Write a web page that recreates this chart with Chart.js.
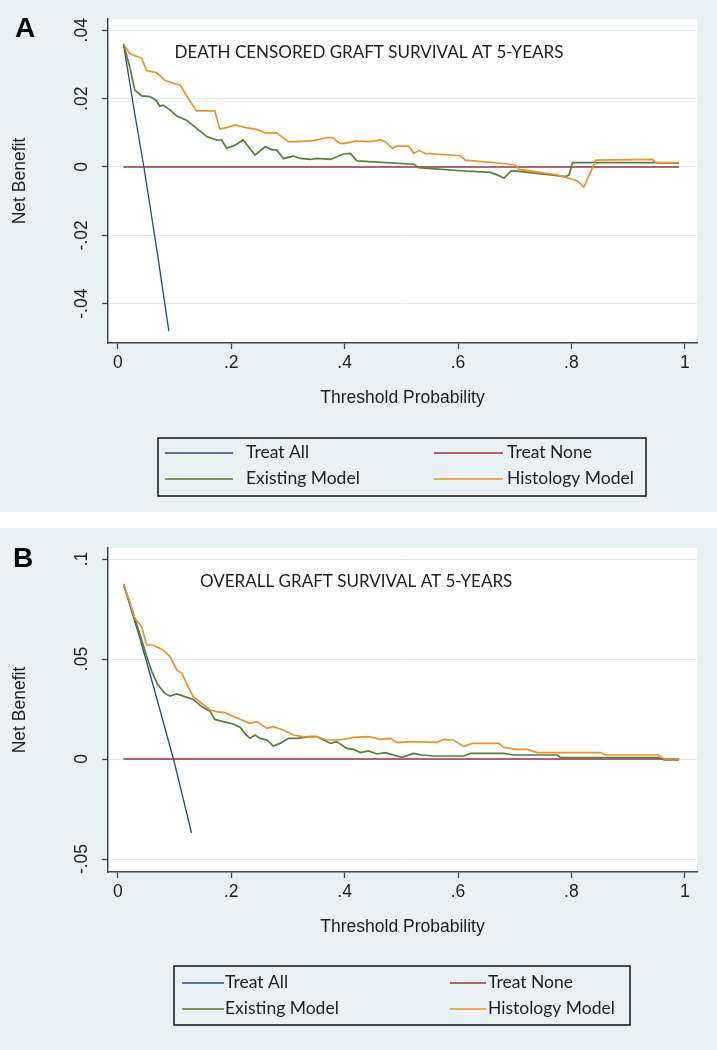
<!DOCTYPE html>
<html><head><meta charset="utf-8">
<script src="https://cdn.jsdelivr.net/npm/chart.js@4.4.1/dist/chart.umd.min.js"></script>
<style>
html,body{margin:0;padding:0;background:#fff;}
body{width:717px;height:1050px;position:relative;overflow:hidden;}
.panel{position:absolute;left:0;width:717px;background:#eaf1f3;}
#pa{top:0;height:512px;}
#pb{top:528px;height:522px;}
canvas{display:block;}
</style></head><body>
<div class="panel" id="pa"><canvas id="ca" width="717" height="512"></canvas></div>
<div class="panel" id="pb"><canvas id="cb" width="717" height="522"></canvas></div>
<script>
// ---------- tick labels & names ----------
const xTicks = [0, 0.2, 0.4, 0.6, 0.8, 1];
const xTickLabels = ['0', '.2', '.4', '.6', '.8', '1'];
const yTicksA = [-0.04, -0.02, 0, 0.02, 0.04];
const yTickLabelsA = ['-.04', '-.02', '0', '.02', '.04'];
const yTicksB = [-0.05, 0, 0.05, 0.1];
const yTickLabelsB = ['-.05', '0', '.05', '.1'];
const seriesNames = ['Treat All', 'Treat None', 'Existing Model', 'Histology Model'];
const titleA = 'DEATH CENSORED GRAFT SURVIVAL AT 5-YEARS';
const titleB = 'OVERALL GRAFT SURVIVAL AT 5-YEARS';
const xAxisTitle = 'Threshold Probability';
const yAxisTitle = 'Net Benefit';

// ---------- Panel A data ----------
const treatAllA_x = [0.01, 0.03, 0.046, 0.07, 0.09];
const treatAllA_y = [0.036, 0.0155, 0, -0.0255, -0.048];
const treatNoneA_x = [0.01, 0.99];
const treatNoneA_y = [0, 0];
const existingA_x = [0.01,0.021,0.030,0.042,0.057,0.068,0.074,0.080,0.092,0.104,0.121,0.139,0.157,0.174,0.183,0.192,0.207,0.221,0.242,0.260,0.272,0.280,0.292,0.310,0.322,0.339,0.351,0.375,0.398,0.410,0.422,0.522,0.531,0.604,0.657,0.669,0.681,0.693,0.704,0.790,0.796,0.802,0.946,0.99];
const existingA_y = [0.036,0.0293,0.0225,0.0208,0.0206,0.0194,0.0178,0.0181,0.0167,0.0149,0.0137,0.0113,0.0089,0.0079,0.0079,0.0055,0.0064,0.0079,0.0035,0.0059,0.005,0.005,0.0025,0.0032,0.0025,0.0022,0.0025,0.0022,0.0038,0.004,0.0018,0.0008,-0.0002,-0.0011,-0.0016,-0.0023,-0.0033,-0.0012,-0.0012,-0.0028,-0.0023,0.0013,0.0013,0.0011];
const histologyA_x = [0.01,0.021,0.042,0.051,0.068,0.083,0.098,0.110,0.124,0.139,0.154,0.171,0.180,0.192,0.207,0.224,0.245,0.260,0.280,0.301,0.316,0.345,0.372,0.380,0.392,0.401,0.419,0.445,0.463,0.472,0.484,0.492,0.513,0.522,0.531,0.542,0.604,0.613,0.675,0.701,0.708,0.775,0.810,0.822,0.843,0.943,0.949,0.99];
const histologyA_y = [0.036,0.0332,0.0318,0.0282,0.0276,0.0254,0.0245,0.024,0.0201,0.0164,0.0164,0.0164,0.0111,0.0115,0.0123,0.0116,0.011,0.010,0.010,0.0074,0.0074,0.0077,0.0087,0.0084,0.0069,0.0069,0.0076,0.0074,0.0079,0.0074,0.0055,0.0061,0.0061,0.004,0.0048,0.004,0.0033,0.002,0.0011,0.0006,-0.0007,-0.0023,-0.004,-0.0059,0.002,0.0022,0.0013,0.0013];

// ---------- Panel B data ----------
const treatAllB_x = [0.01, 0.04, 0.07, 0.10, 0.13];
const treatAllB_y = [0.0875, 0.0595, 0.029, -0.002, -0.037];
const treatNoneB_x = [0.01, 0.99];
const treatNoneB_y = [0, 0];
const existingB_x = [0.01,0.030,0.042,0.051,0.060,0.071,0.083,0.092,0.104,0.118,0.133,0.148,0.163,0.171,0.186,0.204,0.216,0.224,0.233,0.242,0.251,0.263,0.274,0.286,0.301,0.316,0.339,0.351,0.375,0.386,0.404,0.416,0.428,0.442,0.457,0.472,0.486,0.501,0.522,0.536,0.557,0.610,0.622,0.681,0.698,0.775,0.781,0.952,0.964,0.99];
const existingB_y = [0.0875,0.0703,0.0595,0.0512,0.0437,0.037,0.0328,0.0315,0.0325,0.0312,0.0298,0.0262,0.0237,0.0198,0.0187,0.0175,0.0158,0.0128,0.0103,0.012,0.0103,0.0095,0.0065,0.0078,0.0103,0.0103,0.0112,0.0112,0.0078,0.0087,0.0053,0.0048,0.0032,0.004,0.0025,0.0032,0.002,0.0008,0.0028,0.002,0.0015,0.0015,0.0028,0.0028,0.002,0.002,0.0007,0.0007,-0.0005,-0.0005];
const histologyB_x = [0.01,0.021,0.030,0.042,0.051,0.062,0.080,0.092,0.104,0.113,0.124,0.133,0.148,0.163,0.174,0.189,0.204,0.219,0.233,0.245,0.263,0.274,0.292,0.310,0.325,0.351,0.369,0.380,0.398,0.416,0.442,0.463,0.481,0.492,0.516,0.563,0.575,0.592,0.610,0.625,0.672,0.681,0.693,0.701,0.722,0.740,0.852,0.860,0.952,0.964,0.99];
const histologyB_y = [0.0875,0.0787,0.0703,0.0662,0.057,0.057,0.0545,0.0512,0.0445,0.0428,0.0362,0.0312,0.0278,0.0245,0.0237,0.0232,0.0212,0.0195,0.0178,0.0187,0.0153,0.0162,0.0145,0.012,0.0112,0.0112,0.0095,0.0095,0.0098,0.0108,0.0112,0.0098,0.0103,0.0082,0.0087,0.0083,0.0098,0.0095,0.0062,0.0078,0.0078,0.0058,0.0053,0.0048,0.0048,0.0032,0.0032,0.002,0.002,0.0,0.0];

// ---------- styles ----------
const COLORS = ['#2b4b74', '#9a3540', '#5a7b3a', '#ec912f'];
const WIDTHS = [1.3, 1.3, 1.7, 1.7];
const BG = '#eaf1f3';
const AXIS_COLOR = '#444';
const GRID_COLOR = '#e2eaee';
const TEXT_COLOR = '#1e1e1e';
const SANS = 'Liberation Sans';
const LEG = 'Lato';

function makeDatasets(series) {
  return series.map((s, i) => ({
    label: seriesNames[i],
    data: s[0].map((x, j) => ({x: x, y: s[1][j]})),
    borderColor: COLORS[i], backgroundColor: COLORS[i],
    borderWidth: WIDTHS[i], pointRadius: 0, pointHoverRadius: 0,
    tension: 0, fill: false, order: 3 - i
  }));
}

const decoPlugin = {
  id: 'stataDeco',
  beforeDraw(chart, args, o) {
    const {ctx, chartArea: a} = chart;
    ctx.save();
    ctx.fillStyle = BG; ctx.fillRect(0, 0, chart.width, chart.height);
    ctx.fillStyle = '#ffffff'; ctx.fillRect(a.left, a.top, a.right - a.left, a.bottom - a.top);
    ctx.restore();
  },
  afterDraw(chart, args, o) {
    const ctx = chart.ctx;
    const xs = chart.scales.x, ys = chart.scales.y;
    ctx.save();
    // panel letter
    ctx.fillStyle = '#000';
    ctx.font = 'bold 28px "Liberation Sans"';
    ctx.textAlign = 'left'; ctx.textBaseline = 'alphabetic';
    ctx.fillText(o.letter, o.letterX, o.letterY);
    // in-plot title
    ctx.fillStyle = TEXT_COLOR;
    ctx.font = o.titleFont;
    ctx.textBaseline = 'middle';
    ctx.fillText(o.title, xs.getPixelForValue(o.titleX), ys.getPixelForValue(o.titleY));
    // legend box
    const L = o.legend;
    ctx.strokeStyle = '#111'; ctx.lineWidth = 1.5;
    ctx.strokeRect(L.box[0], L.box[1], L.box[2], L.box[3]);
    ctx.font = L.font;
    ctx.textBaseline = 'middle';
    chart.data.datasets.forEach((ds, i) => {
      const r = Math.floor(i / 2), c = i % 2;
      const col = L.cols[c];
      const y = L.rows[r];
      ctx.strokeStyle = ds.borderColor; ctx.lineWidth = 1.3;
      ctx.beginPath(); ctx.moveTo(col[0], y); ctx.lineTo(col[1], y); ctx.stroke();
      ctx.fillStyle = TEXT_COLOR;
      ctx.fillText(ds.label, col[2], y - 1);
    });
    ctx.restore();
  }
};

function build(id, series, yTicks, yLabels, yMin, yMax, pad, deco) {
  return new Chart(document.getElementById(id), {
    type: 'line',
    data: {datasets: makeDatasets(series)},
    plugins: [decoPlugin],
    options: {
      responsive: false, animation: false, devicePixelRatio: 1,
      layout: {padding: pad},
      plugins: {legend: {display: false}, tooltip: {enabled: false}, stataDeco: deco},
      scales: {
        x: {
          type: 'linear', min: -0.0173, max: 1.0215,
          afterBuildTicks: s => { s.ticks = xTicks.map(v => ({value: v})); },
          afterFit: s => { s.height = 80; },
          ticks: {callback: (v, i) => xTickLabels[i], font: {family: SANS, size: 17.5}, color: TEXT_COLOR,
                  padding: 4, maxRotation: 0, minRotation: 0, autoSkip: false},
          grid: {drawOnChartArea: false, drawTicks: true, tickLength: 6, tickColor: AXIS_COLOR, tickWidth: 1.3},
          border: {display: true, color: AXIS_COLOR, width: 1.5},
          title: {display: true, text: xAxisTitle, font: {family: SANS, size: 17.5}, color: TEXT_COLOR,
                  padding: {top: 0, bottom: 14}}
        },
        y: {
          type: 'linear', min: yMin, max: yMax,
          afterBuildTicks: s => { s.ticks = yTicks.map(v => ({value: v})); },
          afterFit: s => { s.width = 108; },
          ticks: {callback: (v, i) => yLabels[i], font: {family: SANS, size: 17.5}, color: TEXT_COLOR,
                  padding: 5, minRotation: 90, maxRotation: 90, crossAlign: 'center', autoSkip: false},
          grid: {drawOnChartArea: true, color: GRID_COLOR, lineWidth: 1, drawTicks: true, tickLength: 6,
                 tickColor: AXIS_COLOR, tickWidth: 1.3},
          border: {display: true, color: AXIS_COLOR, width: 1.5},
          title: {display: true, text: yAxisTitle, font: {family: SANS, size: 17.5}, color: TEXT_COLOR,
                  padding: {top: 9.5, bottom: 0}}
        }
      }
    }
  });
}

build('ca',
  [[treatAllA_x, treatAllA_y], [treatNoneA_x, treatNoneA_y], [existingA_x, existingA_y], [histologyA_x, histologyA_y]],
  yTicksA, yTickLabelsA, -0.0515, 0.0433,
  {left: 0, right: 20, top: 19, bottom: 89},
  {letter: 'A', letterX: 15, letterY: 37, title: titleA, titleX: 0.1, titleY: 0.0336, titleFont: '17px Lato',
   legend: {box: [158, 438, 488, 58], rows: [453, 479], cols: [[165, 233, 246], [434, 503, 507]], font: '17.5px Lato'}});

build('cb',
  [[treatAllB_x, treatAllB_y], [treatNoneB_x, treatNoneB_y], [existingB_x, existingB_y], [histologyB_x, histologyB_y]],
  yTicksB, yTickLabelsB, -0.0565, 0.1055,
  {left: 0, right: 20, top: 20, bottom: 98},
  {letter: 'B', letterX: 13, letterY: 39, title: titleB, titleX: 0.145, titleY: 0.0887, titleFont: '17px Lato',
   legend: {box: [174, 438, 456, 59], rows: [455, 481], cols: [[182, 224, 225], [450, 486, 488]], font: '17.5px Lato'}});
</script>
</body></html>
